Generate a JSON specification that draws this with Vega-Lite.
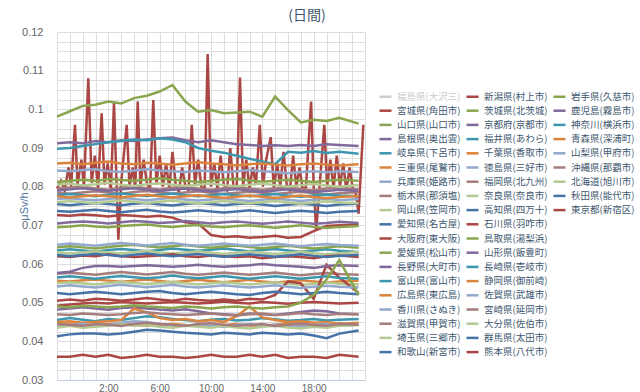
{
"$schema": "https://vega.github.io/schema/vega-lite/v6.json",
"width": 308, "height": 348,
"autosize": {"type": "none"},
"padding": {"left": 57, "top": 32, "right": 275, "bottom": 12},
"background": "white",
"title": {"text": "(日間)", "anchor": "middle", "dx": 96, "fontSize": 14, "fontWeight": "normal", "color": "#3E576F", "font": "Noto Sans CJK JP", "offset": 3},
"datasets": {
"names": [{"s":0,"n":"福島県(大沢三)"},{"s":1,"n":"宮城県(角田市)"},{"s":2,"n":"山口県(山口市)"},{"s":3,"n":"島根県(奥出雲)"},{"s":4,"n":"岐阜県(下呂市)"},{"s":5,"n":"三重県(尾鷲市)"},{"s":6,"n":"兵庫県(姫路市)"},{"s":7,"n":"栃木県(那須塩)"},{"s":8,"n":"岡山県(笠岡市)"},{"s":9,"n":"愛知県(名古屋)"},{"s":10,"n":"大阪府(東大阪)"},{"s":11,"n":"愛媛県(松山市)"},{"s":12,"n":"長野県(大町市)"},{"s":13,"n":"富山県(富山市)"},{"s":14,"n":"広島県(東広島)"},{"s":15,"n":"香川県(さぬき)"},{"s":16,"n":"滋賀県(甲賀市)"},{"s":17,"n":"埼玉県(三郷市)"},{"s":18,"n":"和歌山(新宮市)"},{"s":19,"n":"新潟県(村上市)"},{"s":20,"n":"茨城県(北茨城)"},{"s":21,"n":"京都府(京都市)"},{"s":22,"n":"福井県(あわら)"},{"s":23,"n":"千葉県(香取市)"},{"s":24,"n":"徳島県(三好市)"},{"s":25,"n":"福岡県(北九州)"},{"s":26,"n":"奈良県(奈良市)"},{"s":27,"n":"高知県(四万十)"},{"s":28,"n":"石川県(羽咋市)"},{"s":29,"n":"鳥取県(湯梨浜)"},{"s":30,"n":"山形県(飯豊町)"},{"s":31,"n":"長崎県(壱岐市)"},{"s":32,"n":"静岡県(御前崎)"},{"s":33,"n":"佐賀県(武雄市)"},{"s":34,"n":"宮崎県(延岡市)"},{"s":35,"n":"大分県(佐伯市)"},{"s":36,"n":"群馬県(太田市)"},{"s":37,"n":"熊本県(八代市)"},{"s":38,"n":"岩手県(久慈市)"},{"s":39,"n":"鹿児島(霧島市)"},{"s":40,"n":"神奈川(横浜市)"},{"s":41,"n":"青森県(深浦町)"},{"s":42,"n":"山梨県(甲府市)"},{"s":43,"n":"沖縄県(那覇市)"},{"s":44,"n":"北海道(旭川市)"},{"s":45,"n":"秋田県(能代市)"},{"s":46,"n":"東京都(新宿区)"}],
"d": [
{"s":1,"h":-2,"v":0.0795},{"s":1,"h":-1.7,"v":0.0815},{"s":1,"h":-1.4,"v":0.079},{"s":1,"h":-1.1,"v":0.085},{"s":1,"h":-0.9,"v":0.08},{"s":1,"h":-0.6,"v":0.096},{"s":1,"h":-0.4,"v":0.0805},{"s":1,"h":-0.1,"v":0.087},{"s":1,"h":0.1,"v":0.08},{"s":1,"h":0.44,"v":0.108},{"s":1,"h":0.7,"v":0.081},{"s":1,"h":0.95,"v":0.088},{"s":1,"h":1.2,"v":0.0795},{"s":1,"h":1.48,"v":0.099},{"s":1,"h":1.7,"v":0.0805},{"s":1,"h":1.95,"v":0.086},{"s":1,"h":2.2,"v":0.079},{"s":1,"h":2.44,"v":0.1017},{"s":1,"h":2.65,"v":0.08},{"s":1,"h":2.78,"v":0.0663},{"s":1,"h":3,"v":0.081},{"s":1,"h":3.2,"v":0.088},{"s":1,"h":3.43,"v":0.096},{"s":1,"h":3.65,"v":0.08},{"s":1,"h":3.9,"v":0.085},{"s":1,"h":4.1,"v":0.0795},{"s":1,"h":4.29,"v":0.102},{"s":1,"h":4.5,"v":0.08},{"s":1,"h":4.75,"v":0.087},{"s":1,"h":5,"v":0.081},{"s":1,"h":5.25,"v":0.079},{"s":1,"h":5.5,"v":0.1024},{"s":1,"h":5.75,"v":0.0805},{"s":1,"h":6,"v":0.088},{"s":1,"h":6.25,"v":0.08},{"s":1,"h":6.5,"v":0.086},{"s":1,"h":6.75,"v":0.0795},{"s":1,"h":7,"v":0.089},{"s":1,"h":7.25,"v":0.0805},{"s":1,"h":7.5,"v":0.0785},{"s":1,"h":7.75,"v":0.085},{"s":1,"h":8,"v":0.08},{"s":1,"h":8.25,"v":0.079},{"s":1,"h":8.5,"v":0.096},{"s":1,"h":8.75,"v":0.0805},{"s":1,"h":9,"v":0.087},{"s":1,"h":9.25,"v":0.08},{"s":1,"h":9.5,"v":0.079},{"s":1,"h":9.74,"v":0.1143},{"s":1,"h":10,"v":0.08},{"s":1,"h":10.25,"v":0.086},{"s":1,"h":10.5,"v":0.0795},{"s":1,"h":10.75,"v":0.088},{"s":1,"h":11,"v":0.0805},{"s":1,"h":11.25,"v":0.079},{"s":1,"h":11.5,"v":0.09},{"s":1,"h":11.75,"v":0.08},{"s":1,"h":12,"v":0.0795},{"s":1,"h":12.26,"v":0.1082},{"s":1,"h":12.5,"v":0.08},{"s":1,"h":12.75,"v":0.087},{"s":1,"h":13,"v":0.0795},{"s":1,"h":13.25,"v":0.085},{"s":1,"h":13.5,"v":0.0805},{"s":1,"h":13.8,"v":0.096},{"s":1,"h":14.05,"v":0.08},{"s":1,"h":14.3,"v":0.087},{"s":1,"h":14.65,"v":0.0928},{"s":1,"h":14.9,"v":0.0795},{"s":1,"h":15.15,"v":0.086},{"s":1,"h":15.4,"v":0.08},{"s":1,"h":15.65,"v":0.089},{"s":1,"h":15.9,"v":0.0805},{"s":1,"h":16.15,"v":0.079},{"s":1,"h":16.4,"v":0.088},{"s":1,"h":16.65,"v":0.08},{"s":1,"h":16.9,"v":0.085},{"s":1,"h":17.15,"v":0.079},{"s":1,"h":17.4,"v":0.08},{"s":1,"h":17.8,"v":0.102},{"s":1,"h":18,"v":0.08},{"s":1,"h":18.2,"v":0.0688},{"s":1,"h":18.45,"v":0.0795},{"s":1,"h":18.83,"v":0.096},{"s":1,"h":19.05,"v":0.08},{"s":1,"h":19.3,"v":0.087},{"s":1,"h":19.55,"v":0.0795},{"s":1,"h":19.8,"v":0.088},{"s":1,"h":20.05,"v":0.08},{"s":1,"h":20.3,"v":0.086},{"s":1,"h":20.55,"v":0.079},{"s":1,"h":20.8,"v":0.085},{"s":1,"h":21.05,"v":0.0795},{"s":1,"h":21.3,"v":0.078},{"s":1,"h":21.5,"v":0.073},{"s":1,"h":21.87,"v":0.096},
{"s":2,"h":-2,"v":0.0812},{"s":2,"h":-1,"v":0.0815},{"s":2,"h":0,"v":0.0818},{"s":2,"h":1,"v":0.0815},{"s":2,"h":2,"v":0.082},{"s":2,"h":3,"v":0.0817},{"s":2,"h":4,"v":0.0815},{"s":2,"h":5,"v":0.0818},{"s":2,"h":6,"v":0.0822},{"s":2,"h":7,"v":0.0818},{"s":2,"h":8,"v":0.0815},{"s":2,"h":9,"v":0.0812},{"s":2,"h":10,"v":0.0815},{"s":2,"h":11,"v":0.0818},{"s":2,"h":12,"v":0.082},{"s":2,"h":13,"v":0.0816},{"s":2,"h":14,"v":0.0813},{"s":2,"h":15,"v":0.0815},{"s":2,"h":16,"v":0.0818},{"s":2,"h":17,"v":0.0815},{"s":2,"h":18,"v":0.0812},{"s":2,"h":19,"v":0.0815},{"s":2,"h":20,"v":0.0818},{"s":2,"h":21.5,"v":0.0815},
{"s":3,"h":-2,"v":0.0912},{"s":3,"h":-1,"v":0.0915},{"s":3,"h":0,"v":0.0912},{"s":3,"h":1,"v":0.0918},{"s":3,"h":2,"v":0.0915},{"s":3,"h":3,"v":0.092},{"s":3,"h":4,"v":0.0918},{"s":3,"h":5,"v":0.0922},{"s":3,"h":6,"v":0.0925},{"s":3,"h":7,"v":0.0927},{"s":3,"h":8,"v":0.092},{"s":3,"h":9,"v":0.0915},{"s":3,"h":10,"v":0.092},{"s":3,"h":11,"v":0.0915},{"s":3,"h":12,"v":0.091},{"s":3,"h":13,"v":0.0908},{"s":3,"h":14,"v":0.0905},{"s":3,"h":15,"v":0.0907},{"s":3,"h":16,"v":0.0905},{"s":3,"h":17,"v":0.0908},{"s":3,"h":18,"v":0.0905},{"s":3,"h":19,"v":0.091},{"s":3,"h":20,"v":0.0908},{"s":3,"h":21.5,"v":0.0905},
{"s":4,"h":-2,"v":0.0898},{"s":4,"h":-1,"v":0.09},{"s":4,"h":0,"v":0.0905},{"s":4,"h":1,"v":0.091},{"s":4,"h":2,"v":0.0915},{"s":4,"h":3,"v":0.0918},{"s":4,"h":4,"v":0.0922},{"s":4,"h":5,"v":0.092},{"s":4,"h":6,"v":0.0925},{"s":4,"h":7,"v":0.0922},{"s":4,"h":8,"v":0.0915},{"s":4,"h":9,"v":0.09},{"s":4,"h":10,"v":0.0893},{"s":4,"h":11,"v":0.0888},{"s":4,"h":12,"v":0.088},{"s":4,"h":13,"v":0.0872},{"s":4,"h":14,"v":0.0865},{"s":4,"h":15,"v":0.0858},{"s":4,"h":16,"v":0.089},{"s":4,"h":17,"v":0.0888},{"s":4,"h":18,"v":0.0892},{"s":4,"h":19,"v":0.0887},{"s":4,"h":20,"v":0.089},{"s":4,"h":21.5,"v":0.0885},
{"s":5,"h":-2,"v":0.086},{"s":5,"h":-1,"v":0.0862},{"s":5,"h":0,"v":0.0858},{"s":5,"h":1,"v":0.0862},{"s":5,"h":2,"v":0.0865},{"s":5,"h":3,"v":0.086},{"s":5,"h":4,"v":0.0858},{"s":5,"h":5,"v":0.0862},{"s":5,"h":6,"v":0.086},{"s":5,"h":7,"v":0.0857},{"s":5,"h":8,"v":0.086},{"s":5,"h":9,"v":0.0863},{"s":5,"h":10,"v":0.086},{"s":5,"h":11,"v":0.0858},{"s":5,"h":12,"v":0.0855},{"s":5,"h":13,"v":0.0858},{"s":5,"h":14,"v":0.086},{"s":5,"h":15,"v":0.0857},{"s":5,"h":16,"v":0.0855},{"s":5,"h":17,"v":0.0858},{"s":5,"h":18,"v":0.086},{"s":5,"h":19,"v":0.0857},{"s":5,"h":20,"v":0.0855},{"s":5,"h":21.5,"v":0.0858},
{"s":6,"h":-2,"v":0.0842},{"s":6,"h":-1,"v":0.084},{"s":6,"h":0,"v":0.0843},{"s":6,"h":1,"v":0.0845},{"s":6,"h":2,"v":0.084},{"s":6,"h":3,"v":0.0838},{"s":6,"h":4,"v":0.0842},{"s":6,"h":5,"v":0.0845},{"s":6,"h":6,"v":0.0842},{"s":6,"h":7,"v":0.084},{"s":6,"h":8,"v":0.0838},{"s":6,"h":9,"v":0.0842},{"s":6,"h":10,"v":0.084},{"s":6,"h":11,"v":0.0837},{"s":6,"h":12,"v":0.084},{"s":6,"h":13,"v":0.0843},{"s":6,"h":14,"v":0.084},{"s":6,"h":15,"v":0.0838},{"s":6,"h":16,"v":0.0835},{"s":6,"h":17,"v":0.0838},{"s":6,"h":18,"v":0.084},{"s":6,"h":19,"v":0.0837},{"s":6,"h":20,"v":0.084},{"s":6,"h":21.5,"v":0.0838},
{"s":7,"h":-2,"v":0.0795},{"s":7,"h":-1,"v":0.0798},{"s":7,"h":0,"v":0.08},{"s":7,"h":1,"v":0.0795},{"s":7,"h":2,"v":0.0792},{"s":7,"h":3,"v":0.0798},{"s":7,"h":4,"v":0.08},{"s":7,"h":5,"v":0.0796},{"s":7,"h":6,"v":0.0793},{"s":7,"h":7,"v":0.0797},{"s":7,"h":8,"v":0.08},{"s":7,"h":9,"v":0.0795},{"s":7,"h":10,"v":0.0792},{"s":7,"h":11,"v":0.0796},{"s":7,"h":12,"v":0.0799},{"s":7,"h":13,"v":0.0795},{"s":7,"h":14,"v":0.0792},{"s":7,"h":15,"v":0.0795},{"s":7,"h":16,"v":0.0798},{"s":7,"h":17,"v":0.0794},{"s":7,"h":18,"v":0.0791},{"s":7,"h":19,"v":0.0795},{"s":7,"h":20,"v":0.0797},{"s":7,"h":21.5,"v":0.0793},
{"s":8,"h":-2,"v":0.0805},{"s":8,"h":-1,"v":0.0808},{"s":8,"h":0,"v":0.0803},{"s":8,"h":1,"v":0.0806},{"s":8,"h":2,"v":0.081},{"s":8,"h":3,"v":0.0805},{"s":8,"h":4,"v":0.0802},{"s":8,"h":5,"v":0.0806},{"s":8,"h":6,"v":0.0809},{"s":8,"h":7,"v":0.0805},{"s":8,"h":8,"v":0.0802},{"s":8,"h":9,"v":0.0805},{"s":8,"h":10,"v":0.0808},{"s":8,"h":11,"v":0.0804},{"s":8,"h":12,"v":0.0801},{"s":8,"h":13,"v":0.0805},{"s":8,"h":14,"v":0.0808},{"s":8,"h":15,"v":0.0804},{"s":8,"h":16,"v":0.08},{"s":8,"h":17,"v":0.0804},{"s":8,"h":18,"v":0.0807},{"s":8,"h":19,"v":0.0803},{"s":8,"h":20,"v":0.08},{"s":8,"h":21.5,"v":0.0804},
{"s":9,"h":-2,"v":0.0755},{"s":9,"h":-1,"v":0.0752},{"s":9,"h":0,"v":0.0755},{"s":9,"h":1,"v":0.0758},{"s":9,"h":2,"v":0.0755},{"s":9,"h":3,"v":0.0752},{"s":9,"h":4,"v":0.0756},{"s":9,"h":5,"v":0.0758},{"s":9,"h":6,"v":0.0754},{"s":9,"h":7,"v":0.0751},{"s":9,"h":8,"v":0.0755},{"s":9,"h":9,"v":0.0758},{"s":9,"h":10,"v":0.0755},{"s":9,"h":11,"v":0.0752},{"s":9,"h":12,"v":0.0755},{"s":9,"h":13,"v":0.0757},{"s":9,"h":14,"v":0.0754},{"s":9,"h":15,"v":0.075},{"s":9,"h":16,"v":0.0753},{"s":9,"h":17,"v":0.0756},{"s":9,"h":18,"v":0.0753},{"s":9,"h":19,"v":0.075},{"s":9,"h":20,"v":0.0754},{"s":9,"h":21.5,"v":0.0756},
{"s":10,"h":-2,"v":0.0727},{"s":10,"h":-1,"v":0.0725},{"s":10,"h":0,"v":0.0728},{"s":10,"h":1,"v":0.0726},{"s":10,"h":2,"v":0.0723},{"s":10,"h":3,"v":0.0727},{"s":10,"h":4,"v":0.0725},{"s":10,"h":5,"v":0.0722},{"s":10,"h":6,"v":0.0725},{"s":10,"h":7,"v":0.072},{"s":10,"h":8,"v":0.0708},{"s":10,"h":9,"v":0.0705},{"s":10,"h":10,"v":0.0675},{"s":10,"h":11,"v":0.067},{"s":10,"h":12,"v":0.0672},{"s":10,"h":13,"v":0.0668},{"s":10,"h":14,"v":0.067},{"s":10,"h":15,"v":0.0673},{"s":10,"h":16,"v":0.0668},{"s":10,"h":17,"v":0.067},{"s":10,"h":18,"v":0.0685},{"s":10,"h":19,"v":0.0698},{"s":10,"h":20,"v":0.07},{"s":10,"h":21.5,"v":0.0702},
{"s":11,"h":-2,"v":0.0695},{"s":11,"h":-1,"v":0.0697},{"s":11,"h":0,"v":0.07},{"s":11,"h":1,"v":0.0697},{"s":11,"h":2,"v":0.0695},{"s":11,"h":3,"v":0.0698},{"s":11,"h":4,"v":0.07},{"s":11,"h":5,"v":0.0702},{"s":11,"h":6,"v":0.0698},{"s":11,"h":7,"v":0.0696},{"s":11,"h":8,"v":0.0699},{"s":11,"h":9,"v":0.0701},{"s":11,"h":10,"v":0.0697},{"s":11,"h":11,"v":0.0695},{"s":11,"h":12,"v":0.0698},{"s":11,"h":13,"v":0.07},{"s":11,"h":14,"v":0.0697},{"s":11,"h":15,"v":0.0694},{"s":11,"h":16,"v":0.0697},{"s":11,"h":17,"v":0.07},{"s":11,"h":18,"v":0.0696},{"s":11,"h":19,"v":0.0693},{"s":11,"h":20,"v":0.0696},{"s":11,"h":21.5,"v":0.0698},
{"s":12,"h":-2,"v":0.0705},{"s":12,"h":-1,"v":0.0708},{"s":12,"h":0,"v":0.071},{"s":12,"h":1,"v":0.0708},{"s":12,"h":2,"v":0.0705},{"s":12,"h":3,"v":0.0708},{"s":12,"h":4,"v":0.0711},{"s":12,"h":5,"v":0.0709},{"s":12,"h":6,"v":0.0706},{"s":12,"h":7,"v":0.0708},{"s":12,"h":8,"v":0.0711},{"s":12,"h":9,"v":0.0708},{"s":12,"h":10,"v":0.0705},{"s":12,"h":11,"v":0.0708},{"s":12,"h":12,"v":0.071},{"s":12,"h":13,"v":0.0707},{"s":12,"h":14,"v":0.0704},{"s":12,"h":15,"v":0.0707},{"s":12,"h":16,"v":0.071},{"s":12,"h":17,"v":0.0707},{"s":12,"h":18,"v":0.0704},{"s":12,"h":19,"v":0.0706},{"s":12,"h":20,"v":0.0709},{"s":12,"h":21.5,"v":0.0706},
{"s":13,"h":-2,"v":0.0635},{"s":13,"h":-1,"v":0.0638},{"s":13,"h":0,"v":0.0635},{"s":13,"h":1,"v":0.0632},{"s":13,"h":2,"v":0.0636},{"s":13,"h":3,"v":0.0639},{"s":13,"h":4,"v":0.0636},{"s":13,"h":5,"v":0.0633},{"s":13,"h":6,"v":0.0636},{"s":13,"h":7,"v":0.064},{"s":13,"h":8,"v":0.0637},{"s":13,"h":9,"v":0.0634},{"s":13,"h":10,"v":0.0637},{"s":13,"h":11,"v":0.064},{"s":13,"h":12,"v":0.0636},{"s":13,"h":13,"v":0.0633},{"s":13,"h":14,"v":0.0636},{"s":13,"h":15,"v":0.0639},{"s":13,"h":16,"v":0.0635},{"s":13,"h":17,"v":0.0632},{"s":13,"h":18,"v":0.0635},{"s":13,"h":19,"v":0.0638},{"s":13,"h":20,"v":0.0634},{"s":13,"h":21.5,"v":0.0631},
{"s":14,"h":-2,"v":0.0557},{"s":14,"h":-1,"v":0.0555},{"s":14,"h":0,"v":0.0558},{"s":14,"h":1,"v":0.056},{"s":14,"h":2,"v":0.0557},{"s":14,"h":3,"v":0.0554},{"s":14,"h":4,"v":0.0557},{"s":14,"h":5,"v":0.056},{"s":14,"h":6,"v":0.0556},{"s":14,"h":7,"v":0.0553},{"s":14,"h":8,"v":0.0556},{"s":14,"h":9,"v":0.0559},{"s":14,"h":10,"v":0.0556},{"s":14,"h":11,"v":0.0553},{"s":14,"h":12,"v":0.0556},{"s":14,"h":13,"v":0.0559},{"s":14,"h":14,"v":0.0555},{"s":14,"h":15,"v":0.0552},{"s":14,"h":16,"v":0.0555},{"s":14,"h":17,"v":0.0558},{"s":14,"h":18,"v":0.0555},{"s":14,"h":19,"v":0.0552},{"s":14,"h":20,"v":0.0555},{"s":14,"h":21.5,"v":0.0557},
{"s":15,"h":-2,"v":0.0768},{"s":15,"h":-1,"v":0.077},{"s":15,"h":0,"v":0.0767},{"s":15,"h":1,"v":0.0765},{"s":15,"h":2,"v":0.0768},{"s":15,"h":3,"v":0.0771},{"s":15,"h":4,"v":0.0768},{"s":15,"h":5,"v":0.0765},{"s":15,"h":6,"v":0.0768},{"s":15,"h":7,"v":0.0771},{"s":15,"h":8,"v":0.0767},{"s":15,"h":9,"v":0.0764},{"s":15,"h":10,"v":0.0767},{"s":15,"h":11,"v":0.077},{"s":15,"h":12,"v":0.0766},{"s":15,"h":13,"v":0.0763},{"s":15,"h":14,"v":0.0766},{"s":15,"h":15,"v":0.0769},{"s":15,"h":16,"v":0.0766},{"s":15,"h":17,"v":0.0763},{"s":15,"h":18,"v":0.0766},{"s":15,"h":19,"v":0.0769},{"s":15,"h":20,"v":0.0765},{"s":15,"h":21.5,"v":0.0768},
{"s":16,"h":-2,"v":0.0575},{"s":16,"h":-1,"v":0.0578},{"s":16,"h":0,"v":0.0575},{"s":16,"h":1,"v":0.0572},{"s":16,"h":2,"v":0.0576},{"s":16,"h":3,"v":0.0579},{"s":16,"h":4,"v":0.0576},{"s":16,"h":5,"v":0.0573},{"s":16,"h":6,"v":0.0576},{"s":16,"h":7,"v":0.0579},{"s":16,"h":8,"v":0.0575},{"s":16,"h":9,"v":0.0572},{"s":16,"h":10,"v":0.0575},{"s":16,"h":11,"v":0.0578},{"s":16,"h":12,"v":0.0575},{"s":16,"h":13,"v":0.0572},{"s":16,"h":14,"v":0.0575},{"s":16,"h":15,"v":0.0578},{"s":16,"h":16,"v":0.0574},{"s":16,"h":17,"v":0.0571},{"s":16,"h":18,"v":0.0574},{"s":16,"h":19,"v":0.0577},{"s":16,"h":20,"v":0.0574},{"s":16,"h":21.5,"v":0.0572},
{"s":17,"h":-2,"v":0.055},{"s":17,"h":-1,"v":0.0553},{"s":17,"h":0,"v":0.055},{"s":17,"h":1,"v":0.0547},{"s":17,"h":2,"v":0.0551},{"s":17,"h":3,"v":0.0554},{"s":17,"h":4,"v":0.0551},{"s":17,"h":5,"v":0.0548},{"s":17,"h":6,"v":0.0551},{"s":17,"h":7,"v":0.0554},{"s":17,"h":8,"v":0.055},{"s":17,"h":9,"v":0.0547},{"s":17,"h":10,"v":0.055},{"s":17,"h":11,"v":0.0553},{"s":17,"h":12,"v":0.055},{"s":17,"h":13,"v":0.0547},{"s":17,"h":14,"v":0.055},{"s":17,"h":15,"v":0.0553},{"s":17,"h":16,"v":0.0549},{"s":17,"h":17,"v":0.0546},{"s":17,"h":18,"v":0.0549},{"s":17,"h":19,"v":0.0552},{"s":17,"h":20,"v":0.0549},{"s":17,"h":21.5,"v":0.0547},
{"s":18,"h":-2,"v":0.0737},{"s":18,"h":-1,"v":0.0735},{"s":18,"h":0,"v":0.0738},{"s":18,"h":1,"v":0.074},{"s":18,"h":2,"v":0.0737},{"s":18,"h":3,"v":0.0734},{"s":18,"h":4,"v":0.0737},{"s":18,"h":5,"v":0.074},{"s":18,"h":6,"v":0.0736},{"s":18,"h":7,"v":0.0733},{"s":18,"h":8,"v":0.0736},{"s":18,"h":9,"v":0.0739},{"s":18,"h":10,"v":0.0736},{"s":18,"h":11,"v":0.0733},{"s":18,"h":12,"v":0.0736},{"s":18,"h":13,"v":0.0739},{"s":18,"h":14,"v":0.0735},{"s":18,"h":15,"v":0.0732},{"s":18,"h":16,"v":0.0735},{"s":18,"h":17,"v":0.0738},{"s":18,"h":18,"v":0.0735},{"s":18,"h":19,"v":0.0732},{"s":18,"h":20,"v":0.0735},{"s":18,"h":21.5,"v":0.0737},
{"s":19,"h":-2,"v":0.0505},{"s":19,"h":-1,"v":0.0508},{"s":19,"h":0,"v":0.0505},{"s":19,"h":1,"v":0.051},{"s":19,"h":2,"v":0.0508},{"s":19,"h":3,"v":0.0505},{"s":19,"h":4,"v":0.0508},{"s":19,"h":5,"v":0.0512},{"s":19,"h":6,"v":0.0508},{"s":19,"h":7,"v":0.0505},{"s":19,"h":8,"v":0.051},{"s":19,"h":9,"v":0.0507},{"s":19,"h":10,"v":0.0505},{"s":19,"h":11,"v":0.0508},{"s":19,"h":12,"v":0.0505},{"s":19,"h":13,"v":0.051},{"s":19,"h":14,"v":0.0508},{"s":19,"h":15,"v":0.052},{"s":19,"h":16,"v":0.0555},{"s":19,"h":17,"v":0.055},{"s":19,"h":18,"v":0.051},{"s":19,"h":19,"v":0.0598},{"s":19,"h":20,"v":0.0565},{"s":19,"h":21.5,"v":0.0525},
{"s":20,"h":-2,"v":0.0981},{"s":20,"h":-1,"v":0.0995},{"s":20,"h":0,"v":0.1009},{"s":20,"h":1,"v":0.1012},{"s":20,"h":2,"v":0.102},{"s":20,"h":3,"v":0.1015},{"s":20,"h":4,"v":0.1029},{"s":20,"h":5,"v":0.1035},{"s":20,"h":6,"v":0.1046},{"s":20,"h":7,"v":0.1063},{"s":20,"h":8,"v":0.102},{"s":20,"h":9,"v":0.0994},{"s":20,"h":10,"v":0.0998},{"s":20,"h":11,"v":0.099},{"s":20,"h":12,"v":0.0992},{"s":20,"h":13,"v":0.0994},{"s":20,"h":14,"v":0.0981},{"s":20,"h":15,"v":0.1033},{"s":20,"h":16,"v":0.0998},{"s":20,"h":17,"v":0.0966},{"s":20,"h":18,"v":0.0973},{"s":20,"h":19,"v":0.097},{"s":20,"h":20,"v":0.0978},{"s":20,"h":21.5,"v":0.0963},
{"s":21,"h":-2,"v":0.0577},{"s":21,"h":-1,"v":0.058},{"s":21,"h":0,"v":0.059},{"s":21,"h":1,"v":0.0595},{"s":21,"h":2,"v":0.0595},{"s":21,"h":3,"v":0.0593},{"s":21,"h":4,"v":0.0595},{"s":21,"h":5,"v":0.0597},{"s":21,"h":6,"v":0.0595},{"s":21,"h":7,"v":0.0593},{"s":21,"h":8,"v":0.0595},{"s":21,"h":9,"v":0.0598},{"s":21,"h":10,"v":0.0595},{"s":21,"h":11,"v":0.0593},{"s":21,"h":12,"v":0.0595},{"s":21,"h":13,"v":0.0597},{"s":21,"h":14,"v":0.06},{"s":21,"h":15,"v":0.0597},{"s":21,"h":16,"v":0.0595},{"s":21,"h":17,"v":0.0593},{"s":21,"h":18,"v":0.059},{"s":21,"h":19,"v":0.0595},{"s":21,"h":20,"v":0.0597},{"s":21,"h":21.5,"v":0.0595},
{"s":22,"h":-2,"v":0.0565},{"s":22,"h":-1,"v":0.0568},{"s":22,"h":0,"v":0.0565},{"s":22,"h":1,"v":0.0562},{"s":22,"h":2,"v":0.0566},{"s":22,"h":3,"v":0.0569},{"s":22,"h":4,"v":0.0566},{"s":22,"h":5,"v":0.0563},{"s":22,"h":6,"v":0.0566},{"s":22,"h":7,"v":0.057},{"s":22,"h":8,"v":0.0566},{"s":22,"h":9,"v":0.0563},{"s":22,"h":10,"v":0.0566},{"s":22,"h":11,"v":0.0569},{"s":22,"h":12,"v":0.0565},{"s":22,"h":13,"v":0.0562},{"s":22,"h":14,"v":0.0565},{"s":22,"h":15,"v":0.0568},{"s":22,"h":16,"v":0.0565},{"s":22,"h":17,"v":0.0562},{"s":22,"h":18,"v":0.0565},{"s":22,"h":19,"v":0.0568},{"s":22,"h":20,"v":0.0564},{"s":22,"h":21.5,"v":0.0562},
{"s":23,"h":-2,"v":0.0443},{"s":23,"h":-1,"v":0.0445},{"s":23,"h":0,"v":0.0442},{"s":23,"h":1,"v":0.044},{"s":23,"h":2,"v":0.0444},{"s":23,"h":3,"v":0.0446},{"s":23,"h":4,"v":0.0442},{"s":23,"h":5,"v":0.044},{"s":23,"h":6,"v":0.0443},{"s":23,"h":7,"v":0.0445},{"s":23,"h":8,"v":0.0442},{"s":23,"h":9,"v":0.044},{"s":23,"h":10,"v":0.0438},{"s":23,"h":11,"v":0.0442},{"s":23,"h":12,"v":0.0445},{"s":23,"h":13,"v":0.0441},{"s":23,"h":14,"v":0.044},{"s":23,"h":15,"v":0.0443},{"s":23,"h":16,"v":0.0446},{"s":23,"h":17,"v":0.0442},{"s":23,"h":18,"v":0.044},{"s":23,"h":19,"v":0.0444},{"s":23,"h":20,"v":0.0447},{"s":23,"h":21.5,"v":0.0443},
{"s":24,"h":-2,"v":0.0542},{"s":24,"h":-1,"v":0.0545},{"s":24,"h":0,"v":0.0542},{"s":24,"h":1,"v":0.0539},{"s":24,"h":2,"v":0.0543},{"s":24,"h":3,"v":0.0546},{"s":24,"h":4,"v":0.0543},{"s":24,"h":5,"v":0.054},{"s":24,"h":6,"v":0.0543},{"s":24,"h":7,"v":0.0546},{"s":24,"h":8,"v":0.0542},{"s":24,"h":9,"v":0.0539},{"s":24,"h":10,"v":0.0542},{"s":24,"h":11,"v":0.0545},{"s":24,"h":12,"v":0.0542},{"s":24,"h":13,"v":0.0539},{"s":24,"h":14,"v":0.0542},{"s":24,"h":15,"v":0.0545},{"s":24,"h":16,"v":0.0541},{"s":24,"h":17,"v":0.0538},{"s":24,"h":18,"v":0.0541},{"s":24,"h":19,"v":0.0544},{"s":24,"h":20,"v":0.0541},{"s":24,"h":21.5,"v":0.0539},
{"s":25,"h":-2,"v":0.0785},{"s":25,"h":-1,"v":0.0782},{"s":25,"h":0,"v":0.0785},{"s":25,"h":1,"v":0.0788},{"s":25,"h":2,"v":0.0785},{"s":25,"h":3,"v":0.0782},{"s":25,"h":4,"v":0.0786},{"s":25,"h":5,"v":0.0789},{"s":25,"h":6,"v":0.0785},{"s":25,"h":7,"v":0.0782},{"s":25,"h":8,"v":0.0785},{"s":25,"h":9,"v":0.0788},{"s":25,"h":10,"v":0.0784},{"s":25,"h":11,"v":0.0781},{"s":25,"h":12,"v":0.0784},{"s":25,"h":13,"v":0.0787},{"s":25,"h":14,"v":0.0784},{"s":25,"h":15,"v":0.0781},{"s":25,"h":16,"v":0.0784},{"s":25,"h":17,"v":0.0787},{"s":25,"h":18,"v":0.0783},{"s":25,"h":19,"v":0.078},{"s":25,"h":20,"v":0.0783},{"s":25,"h":21.5,"v":0.0786},
{"s":26,"h":-2,"v":0.063},{"s":26,"h":-1,"v":0.0627},{"s":26,"h":0,"v":0.063},{"s":26,"h":1,"v":0.0633},{"s":26,"h":2,"v":0.063},{"s":26,"h":3,"v":0.0627},{"s":26,"h":4,"v":0.0631},{"s":26,"h":5,"v":0.0634},{"s":26,"h":6,"v":0.063},{"s":26,"h":7,"v":0.0627},{"s":26,"h":8,"v":0.063},{"s":26,"h":9,"v":0.0633},{"s":26,"h":10,"v":0.0629},{"s":26,"h":11,"v":0.0626},{"s":26,"h":12,"v":0.0629},{"s":26,"h":13,"v":0.0632},{"s":26,"h":14,"v":0.0629},{"s":26,"h":15,"v":0.0626},{"s":26,"h":16,"v":0.0629},{"s":26,"h":17,"v":0.0632},{"s":26,"h":18,"v":0.0628},{"s":26,"h":19,"v":0.0625},{"s":26,"h":20,"v":0.0628},{"s":26,"h":21.5,"v":0.0631},
{"s":27,"h":-2,"v":0.0525},{"s":27,"h":-1,"v":0.0522},{"s":27,"h":0,"v":0.0525},{"s":27,"h":1,"v":0.0528},{"s":27,"h":2,"v":0.0525},{"s":27,"h":3,"v":0.0522},{"s":27,"h":4,"v":0.0525},{"s":27,"h":5,"v":0.0528},{"s":27,"h":6,"v":0.053},{"s":27,"h":7,"v":0.0525},{"s":27,"h":8,"v":0.0522},{"s":27,"h":9,"v":0.0525},{"s":27,"h":10,"v":0.0528},{"s":27,"h":11,"v":0.0525},{"s":27,"h":12,"v":0.0522},{"s":27,"h":13,"v":0.052},{"s":27,"h":14,"v":0.0525},{"s":27,"h":15,"v":0.0528},{"s":27,"h":16,"v":0.0525},{"s":27,"h":17,"v":0.0522},{"s":27,"h":18,"v":0.0525},{"s":27,"h":19,"v":0.0528},{"s":27,"h":20,"v":0.0525},{"s":27,"h":21.5,"v":0.0522},
{"s":28,"h":-2,"v":0.062},{"s":28,"h":-1,"v":0.0618},{"s":28,"h":0,"v":0.0622},{"s":28,"h":1,"v":0.062},{"s":28,"h":2,"v":0.0625},{"s":28,"h":3,"v":0.062},{"s":28,"h":4,"v":0.0618},{"s":28,"h":5,"v":0.062},{"s":28,"h":6,"v":0.0622},{"s":28,"h":7,"v":0.0625},{"s":28,"h":8,"v":0.062},{"s":28,"h":9,"v":0.0618},{"s":28,"h":10,"v":0.0622},{"s":28,"h":11,"v":0.062},{"s":28,"h":12,"v":0.0618},{"s":28,"h":13,"v":0.062},{"s":28,"h":14,"v":0.0615},{"s":28,"h":15,"v":0.0618},{"s":28,"h":16,"v":0.062},{"s":28,"h":17,"v":0.0618},{"s":28,"h":18,"v":0.0615},{"s":28,"h":19,"v":0.062},{"s":28,"h":20,"v":0.0622},{"s":28,"h":21.5,"v":0.0618},
{"s":29,"h":-2,"v":0.0643},{"s":29,"h":-1,"v":0.0646},{"s":29,"h":0,"v":0.0643},{"s":29,"h":1,"v":0.064},{"s":29,"h":2,"v":0.0644},{"s":29,"h":3,"v":0.0647},{"s":29,"h":4,"v":0.065},{"s":29,"h":5,"v":0.0646},{"s":29,"h":6,"v":0.0643},{"s":29,"h":7,"v":0.0646},{"s":29,"h":8,"v":0.0649},{"s":29,"h":9,"v":0.0645},{"s":29,"h":10,"v":0.0642},{"s":29,"h":11,"v":0.0645},{"s":29,"h":12,"v":0.0648},{"s":29,"h":13,"v":0.0644},{"s":29,"h":14,"v":0.0641},{"s":29,"h":15,"v":0.0644},{"s":29,"h":16,"v":0.0647},{"s":29,"h":17,"v":0.0643},{"s":29,"h":18,"v":0.064},{"s":29,"h":19,"v":0.0643},{"s":29,"h":20,"v":0.0646},{"s":29,"h":21.5,"v":0.0642},
{"s":30,"h":-2,"v":0.0482},{"s":30,"h":-1,"v":0.0485},{"s":30,"h":0,"v":0.0488},{"s":30,"h":1,"v":0.0485},{"s":30,"h":2,"v":0.0482},{"s":30,"h":3,"v":0.0486},{"s":30,"h":4,"v":0.0488},{"s":30,"h":5,"v":0.0485},{"s":30,"h":6,"v":0.0482},{"s":30,"h":7,"v":0.048},{"s":30,"h":8,"v":0.0483},{"s":30,"h":9,"v":0.0478},{"s":30,"h":10,"v":0.0472},{"s":30,"h":11,"v":0.047},{"s":30,"h":12,"v":0.0468},{"s":30,"h":13,"v":0.0472},{"s":30,"h":14,"v":0.047},{"s":30,"h":15,"v":0.0468},{"s":30,"h":16,"v":0.0472},{"s":30,"h":17,"v":0.0476},{"s":30,"h":18,"v":0.048},{"s":30,"h":19,"v":0.0478},{"s":30,"h":20,"v":0.0472},{"s":30,"h":21.5,"v":0.047},
{"s":31,"h":-2,"v":0.0455},{"s":31,"h":-1,"v":0.046},{"s":31,"h":0,"v":0.0456},{"s":31,"h":1,"v":0.0452},{"s":31,"h":2,"v":0.0458},{"s":31,"h":3,"v":0.0455},{"s":31,"h":4,"v":0.046},{"s":31,"h":5,"v":0.0465},{"s":31,"h":6,"v":0.0462},{"s":31,"h":7,"v":0.0458},{"s":31,"h":8,"v":0.0455},{"s":31,"h":9,"v":0.0452},{"s":31,"h":10,"v":0.0456},{"s":31,"h":11,"v":0.0458},{"s":31,"h":12,"v":0.0454},{"s":31,"h":13,"v":0.0456},{"s":31,"h":14,"v":0.046},{"s":31,"h":15,"v":0.0457},{"s":31,"h":16,"v":0.0453},{"s":31,"h":17,"v":0.0455},{"s":31,"h":18,"v":0.0458},{"s":31,"h":19,"v":0.0454},{"s":31,"h":20,"v":0.0456},{"s":31,"h":21.5,"v":0.0458},
{"s":32,"h":-2,"v":0.045},{"s":32,"h":-1,"v":0.0452},{"s":32,"h":0,"v":0.0448},{"s":32,"h":1,"v":0.045},{"s":32,"h":2,"v":0.0452},{"s":32,"h":3,"v":0.0455},{"s":32,"h":4,"v":0.0485},{"s":32,"h":5,"v":0.0475},{"s":32,"h":6,"v":0.046},{"s":32,"h":7,"v":0.0455},{"s":32,"h":8,"v":0.0458},{"s":32,"h":9,"v":0.0452},{"s":32,"h":10,"v":0.0455},{"s":32,"h":11,"v":0.045},{"s":32,"h":12,"v":0.0465},{"s":32,"h":13,"v":0.049},{"s":32,"h":14,"v":0.0462},{"s":32,"h":15,"v":0.0455},{"s":32,"h":16,"v":0.045},{"s":32,"h":17,"v":0.0452},{"s":32,"h":18,"v":0.0448},{"s":32,"h":19,"v":0.045},{"s":32,"h":20,"v":0.0445},{"s":32,"h":21.5,"v":0.0448},
{"s":33,"h":-2,"v":0.044},{"s":33,"h":-1,"v":0.0442},{"s":33,"h":0,"v":0.0445},{"s":33,"h":1,"v":0.044},{"s":33,"h":2,"v":0.0442},{"s":33,"h":3,"v":0.0448},{"s":33,"h":4,"v":0.0452},{"s":33,"h":5,"v":0.045},{"s":33,"h":6,"v":0.0445},{"s":33,"h":7,"v":0.0442},{"s":33,"h":8,"v":0.044},{"s":33,"h":9,"v":0.0444},{"s":33,"h":10,"v":0.044},{"s":33,"h":11,"v":0.0438},{"s":33,"h":12,"v":0.0442},{"s":33,"h":13,"v":0.0445},{"s":33,"h":14,"v":0.044},{"s":33,"h":15,"v":0.0443},{"s":33,"h":16,"v":0.044},{"s":33,"h":17,"v":0.0438},{"s":33,"h":18,"v":0.0442},{"s":33,"h":19,"v":0.0445},{"s":33,"h":20,"v":0.044},{"s":33,"h":21.5,"v":0.0443},
{"s":34,"h":-2,"v":0.047},{"s":34,"h":-1,"v":0.0468},{"s":34,"h":0,"v":0.0472},{"s":34,"h":1,"v":0.047},{"s":34,"h":2,"v":0.0468},{"s":34,"h":3,"v":0.047},{"s":34,"h":4,"v":0.0473},{"s":34,"h":5,"v":0.0475},{"s":34,"h":6,"v":0.0472},{"s":34,"h":7,"v":0.047},{"s":34,"h":8,"v":0.0468},{"s":34,"h":9,"v":0.047},{"s":34,"h":10,"v":0.0472},{"s":34,"h":11,"v":0.0469},{"s":34,"h":12,"v":0.0467},{"s":34,"h":13,"v":0.047},{"s":34,"h":14,"v":0.0472},{"s":34,"h":15,"v":0.0468},{"s":34,"h":16,"v":0.047},{"s":34,"h":17,"v":0.0473},{"s":34,"h":18,"v":0.047},{"s":34,"h":19,"v":0.0468},{"s":34,"h":20,"v":0.0471},{"s":34,"h":21.5,"v":0.047},
{"s":35,"h":-2,"v":0.0435},{"s":35,"h":-1,"v":0.044},{"s":35,"h":0,"v":0.0435},{"s":35,"h":1,"v":0.0438},{"s":35,"h":2,"v":0.044},{"s":35,"h":3,"v":0.0445},{"s":35,"h":4,"v":0.044},{"s":35,"h":5,"v":0.0442},{"s":35,"h":6,"v":0.0438},{"s":35,"h":7,"v":0.0435},{"s":35,"h":8,"v":0.044},{"s":35,"h":9,"v":0.0438},{"s":35,"h":10,"v":0.0435},{"s":35,"h":11,"v":0.044},{"s":35,"h":12,"v":0.0436},{"s":35,"h":13,"v":0.0433},{"s":35,"h":14,"v":0.0438},{"s":35,"h":15,"v":0.044},{"s":35,"h":16,"v":0.0436},{"s":35,"h":17,"v":0.0433},{"s":35,"h":18,"v":0.0438},{"s":35,"h":19,"v":0.0435},{"s":35,"h":20,"v":0.044},{"s":35,"h":21.5,"v":0.0442},
{"s":36,"h":-2,"v":0.0413},{"s":36,"h":-1,"v":0.0418},{"s":36,"h":0,"v":0.042},{"s":36,"h":1,"v":0.042},{"s":36,"h":2,"v":0.0418},{"s":36,"h":3,"v":0.042},{"s":36,"h":4,"v":0.0425},{"s":36,"h":5,"v":0.043},{"s":36,"h":6,"v":0.0428},{"s":36,"h":7,"v":0.0425},{"s":36,"h":8,"v":0.0422},{"s":36,"h":9,"v":0.042},{"s":36,"h":10,"v":0.0418},{"s":36,"h":11,"v":0.0422},{"s":36,"h":12,"v":0.042},{"s":36,"h":13,"v":0.0418},{"s":36,"h":14,"v":0.0422},{"s":36,"h":15,"v":0.042},{"s":36,"h":16,"v":0.0418},{"s":36,"h":17,"v":0.042},{"s":36,"h":18,"v":0.0415},{"s":36,"h":19,"v":0.0408},{"s":36,"h":20,"v":0.042},{"s":36,"h":21.5,"v":0.0428},
{"s":37,"h":-2,"v":0.0492},{"s":37,"h":-1,"v":0.0495},{"s":37,"h":0,"v":0.0498},{"s":37,"h":1,"v":0.05},{"s":37,"h":2,"v":0.0498},{"s":37,"h":3,"v":0.0502},{"s":37,"h":4,"v":0.05},{"s":37,"h":5,"v":0.0498},{"s":37,"h":6,"v":0.05},{"s":37,"h":7,"v":0.0502},{"s":37,"h":8,"v":0.05},{"s":37,"h":9,"v":0.0498},{"s":37,"h":10,"v":0.05},{"s":37,"h":11,"v":0.0503},{"s":37,"h":12,"v":0.05},{"s":37,"h":13,"v":0.0498},{"s":37,"h":14,"v":0.0502},{"s":37,"h":15,"v":0.05},{"s":37,"h":16,"v":0.0497},{"s":37,"h":17,"v":0.05},{"s":37,"h":18,"v":0.0502},{"s":37,"h":19,"v":0.05},{"s":37,"h":20,"v":0.0498},{"s":37,"h":21.5,"v":0.05},
{"s":38,"h":-2,"v":0.049},{"s":38,"h":-1,"v":0.0488},{"s":38,"h":0,"v":0.0492},{"s":38,"h":1,"v":0.049},{"s":38,"h":2,"v":0.0488},{"s":38,"h":3,"v":0.049},{"s":38,"h":4,"v":0.0493},{"s":38,"h":5,"v":0.049},{"s":38,"h":6,"v":0.0488},{"s":38,"h":7,"v":0.0486},{"s":38,"h":8,"v":0.049},{"s":38,"h":9,"v":0.0488},{"s":38,"h":10,"v":0.0485},{"s":38,"h":11,"v":0.0488},{"s":38,"h":12,"v":0.049},{"s":38,"h":13,"v":0.0487},{"s":38,"h":14,"v":0.0485},{"s":38,"h":15,"v":0.0488},{"s":38,"h":16,"v":0.049},{"s":38,"h":17,"v":0.05},{"s":38,"h":18,"v":0.052},{"s":38,"h":19,"v":0.056},{"s":38,"h":20,"v":0.061},{"s":38,"h":21.5,"v":0.052},
{"s":39,"h":-2,"v":0.079},{"s":39,"h":-1,"v":0.0793},{"s":39,"h":0,"v":0.0796},{"s":39,"h":1,"v":0.0792},{"s":39,"h":2,"v":0.0789},{"s":39,"h":3,"v":0.0793},{"s":39,"h":4,"v":0.0796},{"s":39,"h":5,"v":0.0792},{"s":39,"h":6,"v":0.0789},{"s":39,"h":7,"v":0.0792},{"s":39,"h":8,"v":0.0795},{"s":39,"h":9,"v":0.0791},{"s":39,"h":10,"v":0.0788},{"s":39,"h":11,"v":0.0791},{"s":39,"h":12,"v":0.0794},{"s":39,"h":13,"v":0.079},{"s":39,"h":14,"v":0.0787},{"s":39,"h":15,"v":0.079},{"s":39,"h":16,"v":0.0793},{"s":39,"h":17,"v":0.0789},{"s":39,"h":18,"v":0.0786},{"s":39,"h":19,"v":0.0789},{"s":39,"h":20,"v":0.0792},{"s":39,"h":21.5,"v":0.0789},
{"s":40,"h":-2,"v":0.0778},{"s":40,"h":-1,"v":0.0781},{"s":40,"h":0,"v":0.0778},{"s":40,"h":1,"v":0.0775},{"s":40,"h":2,"v":0.0779},{"s":40,"h":3,"v":0.0782},{"s":40,"h":4,"v":0.0779},{"s":40,"h":5,"v":0.0776},{"s":40,"h":6,"v":0.0779},{"s":40,"h":7,"v":0.0782},{"s":40,"h":8,"v":0.0778},{"s":40,"h":9,"v":0.0775},{"s":40,"h":10,"v":0.0778},{"s":40,"h":11,"v":0.0781},{"s":40,"h":12,"v":0.0778},{"s":40,"h":13,"v":0.0775},{"s":40,"h":14,"v":0.0778},{"s":40,"h":15,"v":0.0781},{"s":40,"h":16,"v":0.0777},{"s":40,"h":17,"v":0.0774},{"s":40,"h":18,"v":0.0777},{"s":40,"h":19,"v":0.078},{"s":40,"h":20,"v":0.0777},{"s":40,"h":21.5,"v":0.0775},
{"s":41,"h":-2,"v":0.0775},{"s":41,"h":-1,"v":0.0772},{"s":41,"h":0,"v":0.0775},{"s":41,"h":1,"v":0.0778},{"s":41,"h":2,"v":0.0775},{"s":41,"h":3,"v":0.0772},{"s":41,"h":4,"v":0.0776},{"s":41,"h":5,"v":0.0779},{"s":41,"h":6,"v":0.0775},{"s":41,"h":7,"v":0.0772},{"s":41,"h":8,"v":0.0775},{"s":41,"h":9,"v":0.0778},{"s":41,"h":10,"v":0.0774},{"s":41,"h":11,"v":0.0771},{"s":41,"h":12,"v":0.0774},{"s":41,"h":13,"v":0.0777},{"s":41,"h":14,"v":0.0774},{"s":41,"h":15,"v":0.0771},{"s":41,"h":16,"v":0.0774},{"s":41,"h":17,"v":0.0777},{"s":41,"h":18,"v":0.0773},{"s":41,"h":19,"v":0.077},{"s":41,"h":20,"v":0.0773},{"s":41,"h":21.5,"v":0.0776},
{"s":42,"h":-2,"v":0.065},{"s":42,"h":-1,"v":0.0653},{"s":42,"h":0,"v":0.065},{"s":42,"h":1,"v":0.0647},{"s":42,"h":2,"v":0.0651},{"s":42,"h":3,"v":0.0654},{"s":42,"h":4,"v":0.0651},{"s":42,"h":5,"v":0.0648},{"s":42,"h":6,"v":0.0651},{"s":42,"h":7,"v":0.0654},{"s":42,"h":8,"v":0.065},{"s":42,"h":9,"v":0.0647},{"s":42,"h":10,"v":0.065},{"s":42,"h":11,"v":0.0653},{"s":42,"h":12,"v":0.065},{"s":42,"h":13,"v":0.0647},{"s":42,"h":14,"v":0.065},{"s":42,"h":15,"v":0.0653},{"s":42,"h":16,"v":0.0649},{"s":42,"h":17,"v":0.0646},{"s":42,"h":18,"v":0.0649},{"s":42,"h":19,"v":0.0652},{"s":42,"h":20,"v":0.0649},{"s":42,"h":21.5,"v":0.0647},
{"s":43,"h":-2,"v":0.0445},{"s":43,"h":-1,"v":0.0442},{"s":43,"h":0,"v":0.044},{"s":43,"h":1,"v":0.0445},{"s":43,"h":2,"v":0.0443},{"s":43,"h":3,"v":0.044},{"s":43,"h":4,"v":0.0445},{"s":43,"h":5,"v":0.0448},{"s":43,"h":6,"v":0.0445},{"s":43,"h":7,"v":0.0442},{"s":43,"h":8,"v":0.044},{"s":43,"h":9,"v":0.0445},{"s":43,"h":10,"v":0.0447},{"s":43,"h":11,"v":0.0443},{"s":43,"h":12,"v":0.044},{"s":43,"h":13,"v":0.0442},{"s":43,"h":14,"v":0.0445},{"s":43,"h":15,"v":0.044},{"s":43,"h":16,"v":0.0443},{"s":43,"h":17,"v":0.0446},{"s":43,"h":18,"v":0.0442},{"s":43,"h":19,"v":0.044},{"s":43,"h":20,"v":0.0445},{"s":43,"h":21.5,"v":0.0443},
{"s":44,"h":-2,"v":0.076},{"s":44,"h":-1,"v":0.0763},{"s":44,"h":0,"v":0.076},{"s":44,"h":1,"v":0.0757},{"s":44,"h":2,"v":0.0761},{"s":44,"h":3,"v":0.0764},{"s":44,"h":4,"v":0.0761},{"s":44,"h":5,"v":0.0758},{"s":44,"h":6,"v":0.0761},{"s":44,"h":7,"v":0.0764},{"s":44,"h":8,"v":0.076},{"s":44,"h":9,"v":0.0757},{"s":44,"h":10,"v":0.076},{"s":44,"h":11,"v":0.0763},{"s":44,"h":12,"v":0.076},{"s":44,"h":13,"v":0.0757},{"s":44,"h":14,"v":0.076},{"s":44,"h":15,"v":0.0763},{"s":44,"h":16,"v":0.0759},{"s":44,"h":17,"v":0.0756},{"s":44,"h":18,"v":0.0759},{"s":44,"h":19,"v":0.0762},{"s":44,"h":20,"v":0.0759},{"s":44,"h":21.5,"v":0.0757},
{"s":45,"h":-2,"v":0.0623},{"s":45,"h":-1,"v":0.062},{"s":45,"h":0,"v":0.0623},{"s":45,"h":1,"v":0.0626},{"s":45,"h":2,"v":0.0623},{"s":45,"h":3,"v":0.062},{"s":45,"h":4,"v":0.0624},{"s":45,"h":5,"v":0.0627},{"s":45,"h":6,"v":0.0623},{"s":45,"h":7,"v":0.062},{"s":45,"h":8,"v":0.0623},{"s":45,"h":9,"v":0.0626},{"s":45,"h":10,"v":0.0622},{"s":45,"h":11,"v":0.0619},{"s":45,"h":12,"v":0.0622},{"s":45,"h":13,"v":0.0625},{"s":45,"h":14,"v":0.0622},{"s":45,"h":15,"v":0.0619},{"s":45,"h":16,"v":0.0622},{"s":45,"h":17,"v":0.0625},{"s":45,"h":18,"v":0.0621},{"s":45,"h":19,"v":0.0618},{"s":45,"h":20,"v":0.0621},{"s":45,"h":21.5,"v":0.0624},
{"s":46,"h":-2,"v":0.036},{"s":46,"h":-1,"v":0.036},{"s":46,"h":0,"v":0.0365},{"s":46,"h":1,"v":0.036},{"s":46,"h":2,"v":0.0365},{"s":46,"h":3,"v":0.0357},{"s":46,"h":4,"v":0.036},{"s":46,"h":5,"v":0.0365},{"s":46,"h":6,"v":0.036},{"s":46,"h":7,"v":0.036},{"s":46,"h":8,"v":0.0357},{"s":46,"h":9,"v":0.036},{"s":46,"h":10,"v":0.0365},{"s":46,"h":11,"v":0.036},{"s":46,"h":12,"v":0.036},{"s":46,"h":13,"v":0.0365},{"s":46,"h":14,"v":0.036},{"s":46,"h":15,"v":0.0365},{"s":46,"h":16,"v":0.0357},{"s":46,"h":17,"v":0.036},{"s":46,"h":18,"v":0.036},{"s":46,"h":19,"v":0.0357},{"s":46,"h":20,"v":0.0365},{"s":46,"h":21.5,"v":0.036}
]},
"data": {"name": "d"},
"transform": [{"lookup": "s", "from": {"data": {"name": "names"}, "key": "s", "fields": ["n"]}}],
"mark": {"type": "line", "strokeWidth": 2.5},
"encoding": {
"x": {"field": "h", "type": "quantitative", "scale": {"domain": [-2, 22], "nice": false, "zero": false},
 "axis": {"title": null, "values": [-2,-1,0,1,2,3,4,5,6,7,8,9,10,11,12,13,14,15,16,17,18,19,20,21,22],
  "labelExpr": "datum.value >= 2 && datum.value <= 18 && (datum.value - 2) % 4 == 0 ? datum.value + ':00' : ''",
  "grid": true, "gridColor": "#DDDDDD", "tickSize": 0, "labelPadding": 3, "labelFontSize": 10, "labelColor": "#666666", "labelFont": "Liberation Sans", "domainColor": "#C0D0E0", "labelOverlap": false, "labelFlush": false}},
"y": {"field": "v", "type": "quantitative", "scale": {"domain": [0.03, 0.12], "nice": false, "zero": false},
 "axis": {"title": "μSv/h", "values": [0.03,0.0325,0.035,0.0375,0.04,0.0425,0.045,0.0475,0.05,0.0525,0.055,0.0575,0.06,0.0625,0.065,0.0675,0.07,0.0725,0.075,0.0775,0.08,0.0825,0.085,0.0875,0.09,0.0925,0.095,0.0975,0.1,0.1025,0.105,0.1075,0.11,0.1125,0.115,0.1175,0.12],
  "labelExpr": "abs(datum.value * 100 - round(datum.value * 100)) < 0.001 ? toString(round(datum.value * 100) / 100) : ''",
  "grid": true, "gridColor": "#DDDDDD", "tickSize": 0, "labelPadding": 14, "labelFontSize": 11, "labelColor": "#666666", "labelFont": "Liberation Sans", "domain": false, "labelOverlap": false, "labelFlush": false,
  "titleColor": "#4D759E", "titleFontWeight": "normal", "titleFontSize": 11, "titleFont": "Liberation Sans", "titlePadding": -8}},
"color": {"field": "n", "type": "nominal",
 "scale": {"domain": ["福島県(大沢三)","宮城県(角田市)","山口県(山口市)","島根県(奥出雲)","岐阜県(下呂市)","三重県(尾鷲市)","兵庫県(姫路市)","栃木県(那須塩)","岡山県(笠岡市)","愛知県(名古屋)","大阪府(東大阪)","愛媛県(松山市)","長野県(大町市)","富山県(富山市)","広島県(東広島)","香川県(さぬき)","滋賀県(甲賀市)","埼玉県(三郷市)","和歌山(新宮市)","新潟県(村上市)","茨城県(北茨城)","京都府(京都市)","福井県(あわら)","千葉県(香取市)","徳島県(三好市)","福岡県(北九州)","奈良県(奈良市)","高知県(四万十)","石川県(羽咋市)","鳥取県(湯梨浜)","山形県(飯豊町)","長崎県(壱岐市)","静岡県(御前崎)","佐賀県(武雄市)","宮崎県(延岡市)","大分県(佐伯市)","群馬県(太田市)","熊本県(八代市)","岩手県(久慈市)","鹿児島(霧島市)","神奈川(横浜市)","青森県(深浦町)","山梨県(甲府市)","沖縄県(那覇市)","北海道(旭川市)","秋田県(能代市)","東京都(新宿区)"," ","  ","   ","    ","     ","      ","       ","        ","         ","          "],
  "range": ["#CCCCCC","#AA4643","#89A54E","#80699B","#3D96AE","#DB843D","#92A8CD","#A47D7C","#B5CA92","#4572A7","#AA4643","#89A54E","#80699B","#3D96AE","#DB843D","#92A8CD","#A47D7C","#B5CA92","#4572A7","#AA4643","#89A54E","#80699B","#3D96AE","#DB843D","#92A8CD","#A47D7C","#B5CA92","#4572A7","#AA4643","#89A54E","#80699B","#3D96AE","#DB843D","#92A8CD","#A47D7C","#B5CA92","#4572A7","#AA4643","#89A54E","#80699B","#3D96AE","#DB843D","#92A8CD","#A47D7C","#B5CA92","#4572A7","#AA4643","transparent","transparent","transparent","transparent","transparent","transparent","transparent","transparent","transparent","transparent"]},
 "legend": {"orient": "none", "legendX": 321, "legendY": 57, "columns": 3, "title": null, "symbolType": "stroke", "symbolSize": 144, "symbolStrokeWidth": 2.5, "labelFontSize": 9.5, "labelColor": "#3E576F", "labelFont": "Noto Sans CJK JP", "labelOffset": 4, "rowPadding": 1.2, "columnPadding": 0, "gridAlign": "all", "labelLimit": 120, "padding": 0, "symbolLimit": 100,
  "encode": {"labels": {"update": {"fill": {"signal": "datum.value === '福島県(大沢三)' ? '#CCCCCC' : '#3E576F'"}}}}}}
},
"config": {"view": {"stroke": null}}
}
